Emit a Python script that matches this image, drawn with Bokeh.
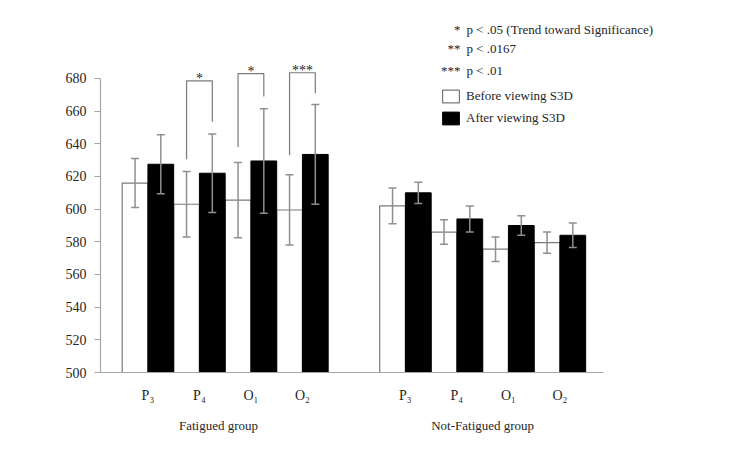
from bokeh.plotting import figure
from bokeh.models import (Range1d, FixedTicker, LinearAxis, Whisker, ColumnDataSource,
                          Legend, LegendItem, TeeHead, Label)
from bokeh.core.properties import value
from bokeh.embed import file_html
from bokeh.resources import INLINE

# ---------------- data ----------------
channels = ["P\u2083", "P\u2084", "O\u2081", "O\u2082"]
groups = ["Fatigued group", "Not-Fatigued group"]

before_fatigued = [616, 603, 605.5, 599.5]
before_fatigued_err = [15, 20, 23, 21.5]
after_fatigued = [627.5, 622, 629.5, 633.5]
after_fatigued_err = [18, 24, 32, 30.5]

before_notfatigued = [602, 586, 575.5, 579.5]
before_notfatigued_err = [11, 7.5, 7.5, 6.5]
after_notfatigued = [610, 594, 590, 584]
after_notfatigued_err = [6.5, 8, 6, 7.5]

y_ticks = [500, 520, 540, 560, 580, 600, 620, 640, 660, 680]

# significance brackets (Fatigued group, channel index)
sig_channel = [1, 2, 3]
sig_marks = ["*", "*", "***"]
bracket_top = [678.5, 683, 683.5]
bracket_left_end = [630.5, 638, 633]
bracket_right_end = [653.5, 669, 671]

note_marks = ["*", "**", "***"]
note_texts = ["p < .05 (Trend toward Significance)", "p < .0167", "p < .01"]
legend_labels = ["Before viewing S3D", "After viewing S3D"]

# ---------------- layout helpers ----------------
FONT = "Liberation Serif"
TXT = "#262626"
fat_slots = [0, 1, 2, 3]
nf_slots = [5, 6, 7, 8]
slots = fat_slots + nf_slots
before_all = before_fatigued + before_notfatigued
before_err_all = before_fatigued_err + before_notfatigued_err
after_all = after_fatigued + after_notfatigued
after_err_all = after_fatigued_err + after_notfatigued_err

p = figure(width=723, height=454,
           x_range=Range1d(-0.921, 10.885), y_range=Range1d(500, 720.4),
           output_backend="svg", toolbar_location=None,
           x_axis_type=None, y_axis_type=None,
           min_border_left=100, min_border_right=15,
           min_border_top=12, min_border_bottom=82)
p.outline_line_color = None
p.background_fill_color = "white"

# axes
yax = LinearAxis(ticker=FixedTicker(ticks=y_ticks), bounds=(500, 680),
                 axis_line_color="#a6a6a6", axis_line_width=1.2,
                 major_tick_line_color="#a6a6a6", major_tick_out=6, major_tick_in=0,
                 minor_tick_line_color=None,
                 major_label_text_font=FONT, major_label_text_font_size="14px",
                 major_label_text_color=TXT, major_label_standoff=8)
p.add_layout(yax, "left")

xax = LinearAxis(ticker=FixedTicker(ticks=slots), bounds=(-0.921, 8.846),
                 major_label_overrides={s: channels[i % 4] for i, s in enumerate(slots)},
                 axis_line_color="#a6a6a6", axis_line_width=1.2,
                 major_tick_line_color=None, minor_tick_line_color=None,
                 major_label_text_font=FONT, major_label_text_font_size="14px",
                 major_label_text_color=TXT, major_label_standoff=9)
p.add_layout(xax, "below")

group_pos = [1.37, 6.5]
gax = LinearAxis(ticker=FixedTicker(ticks=group_pos),
                 major_label_overrides={group_pos[i]: groups[i] for i in range(2)},
                 axis_line_color=None, major_tick_line_color=None, minor_tick_line_color=None,
                 major_label_text_font=FONT, major_label_text_font_size="13px",
                 major_label_text_color=TXT, major_label_standoff=6)
p.add_layout(gax, "below")

# bars
src_b = ColumnDataSource(dict(x=[s - 0.25 for s in slots], top=before_all,
                              upper=[v + e for v, e in zip(before_all, before_err_all)],
                              lower=[v - e for v, e in zip(before_all, before_err_all)]))
src_a = ColumnDataSource(dict(x=[s + 0.25 for s in slots], top=after_all,
                              upper=[v + e for v, e in zip(after_all, after_err_all)],
                              lower=[v - e for v, e in zip(after_all, after_err_all)]))

rb = p.vbar(x="x", top="top", bottom=500, width=0.5, source=src_b,
            fill_color="white", line_color="#7a7a7a", line_width=1.2)
ra = p.vbar(x="x", top="top", bottom=500, width=0.5, source=src_a,
            fill_color="black", line_color="black", line_width=1)

ERR = "#8f8f8f"
for src in (src_b, src_a):
    p.add_layout(Whisker(source=src, base="x", upper="upper", lower="lower",
                         level="overlay", line_color=ERR, line_width=1.5,
                         upper_head=TeeHead(size=8, line_color=ERR, line_width=1.5),
                         lower_head=TeeHead(size=8, line_color=ERR, line_width=1.5)))

# significance brackets
bx, by, sx, sy = [], [], [], []
for k, c in enumerate(sig_channel):
    xl = fat_slots[c] - 0.25
    xr = fat_slots[c] + 0.25
    bx.append([xl, xl, xr, xr])
    by.append([bracket_left_end[k], bracket_top[k], bracket_top[k], bracket_right_end[k]])
    sx.append(fat_slots[c])
    sy.append(bracket_top[k] + 1.5)
p.multi_line(xs=bx, ys=by, line_color="#7a7a7a", line_width=1.2)
p.text(x=sx, y=sy, text=sig_marks, text_align="center", text_baseline="alphabetic",
       text_font=value(FONT), text_font_size="14px", text_color=TXT)

# significance notes
note_x_marks = 6.07
note_x_text = 6.186
note_y = [710, 698.4, 684.6]
p.text(x=[note_x_marks] * 3, y=note_y, text=note_marks, text_align="right",
       text_baseline="alphabetic", text_font=value(FONT), text_font_size="13px",
       text_color=TXT)
p.text(x=[note_x_text] * 3, y=note_y, text=note_texts, text_align="left",
       text_baseline="alphabetic", text_font=value(FONT), text_font_size="13px",
       text_color=TXT)

# legend
legend = Legend(items=[LegendItem(label=legend_labels[0], renderers=[rb]),
                       LegendItem(label=legend_labels[1], renderers=[ra])],
                location=(340, 246), border_line_color=None, background_fill_alpha=0,
                padding=0, margin=0, spacing=6, glyph_width=21, glyph_height=16,
                label_standoff=5, label_height=16, label_text_font=FONT,
                label_text_font_size="13px", label_text_color=TXT)
p.add_layout(legend)

# unit label
p.add_layout(Label(x=-1.465, y=694, text="ms", text_align="center", text_baseline="middle",
                   text_font=FONT, text_font_size="12px", text_color=TXT))

open("out.html", "w").write(file_html(p, INLINE))
